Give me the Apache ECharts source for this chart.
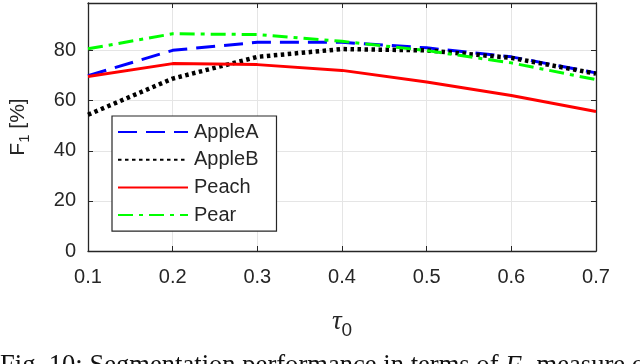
<!DOCTYPE html>
<html>
<head>
<meta charset="utf-8">
<script src="https://cdn.jsdelivr.net/npm/echarts@6/dist/echarts.min.js"></script>
<style>
  html, body { margin: 0; padding: 0; background: #fff; }
  #chart { width: 640px; height: 364px; }
</style>
</head>
<body>
<div id="chart"></div>
<script>
// tau_0 values and F1 scores (%)
const tau = [0.1, 0.2, 0.3, 0.4, 0.5, 0.6, 0.7]
const appleA = [70.0, 80.1, 83.3, 83.3, 81.1, 77.5, 71.1]
const appleB = [54.4, 68.8, 77.5, 80.6, 80.1, 77.1, 70.8]
const peach = [69.7, 74.8, 74.4, 72.1, 67.5, 62.1, 55.7]
const pear = [80.7, 86.7, 86.4, 83.7, 80.0, 75.1, 68.4]

const ink = '#262626'
const sans = 'Liberation Sans, Arial, sans-serif'
const serif = 'Liberation Serif, Times New Roman, serif'

const pairs = vals => tau.map((t, i) => [t, vals[i]])

const chart = echarts.init(document.getElementById('chart'))

const line = (name, vals, color, width, type) => ({
  type: 'line', name, data: pairs(vals),
  symbol: 'none', showSymbol: false,
  lineStyle: { color, width, type, cap: 'butt' },
  itemStyle: { color },
  animation: false
})

chart.setOption({
  animation: false,
  grid: { left: 87, right: 44, top: 3, bottom: 113, show: false },
  xAxis: [{
    type: 'value', min: 0.1, max: 0.7, interval: 0.1,
    name: '{t|τ}{s|0}', nameLocation: 'middle', nameGap: 52,
    nameTextStyle: {
      rich: {
        t: { fontFamily: serif, fontStyle: 'italic', fontSize: 27, color: ink },
        s: { fontFamily: sans, fontSize: 19, color: ink, verticalAlign: 'bottom', padding: [18, 0, 0, 0] }
      }
    },
    axisLine: { lineStyle: { color: ink, width: 1.3 } },
    axisTick: { inside: true, length: 5, lineStyle: { color: ink } },
    axisLabel: { color: ink, fontFamily: sans, fontSize: 20, margin: 16, formatter: v => v.toFixed(1) },
    splitLine: { show: true, lineStyle: { color: '#e5e5e5', width: 1 } }
  }, {
    type: 'value', position: 'top', min: 0.1, max: 0.7, interval: 0.1,
    axisLine: { show: true, onZero: false, lineStyle: { color: ink, width: 1.3 } },
    axisTick: { inside: true, length: 5, lineStyle: { color: ink } },
    axisLabel: { show: false },
    splitLine: { show: false }
  }],
  yAxis: [{
    type: 'value', min: 0, max: 99, interval: 20,
    name: 'F{s|1} [%]', nameLocation: 'middle', nameGap: 56, nameRotate: 90,
    nameTextStyle: {
      fontFamily: sans, fontSize: 21, color: ink,
      rich: { s: { fontFamily: sans, fontSize: 15, color: ink, verticalAlign: 'bottom', padding: [12, 0, 0, 0] } }
    },
    axisLine: { show: true, lineStyle: { color: ink, width: 1.3 } },
    axisTick: { inside: true, length: 5, lineStyle: { color: ink } },
    axisLabel: { color: ink, fontFamily: sans, fontSize: 20, margin: 12, showMaxLabel: false },
    splitLine: { show: true, lineStyle: { color: '#e5e5e5', width: 1 } }
  }, {
    type: 'value', position: 'right', min: 0, max: 99, interval: 20,
    axisLine: { show: true, onZero: false, lineStyle: { color: ink, width: 1.3 } },
    axisTick: { inside: true, length: 5, lineStyle: { color: ink } },
    axisLabel: { show: false },
    splitLine: { show: false }
  }],
  legend: {
    left: 112, top: 116, orient: 'vertical',
    itemWidth: 70, itemHeight: 20, itemGap: 7.7,
    itemStyle: { opacity: 0 },
    padding: [6, 18, 6, 5],
    backgroundColor: '#fff', borderColor: ink, borderWidth: 1.2, borderRadius: 0,
    textStyle: { color: ink, fontFamily: sans, fontSize: 20, padding: [0, 0, 0, 1] },
    data: ['AppleA', 'AppleB', 'Peach', 'Pear']
  },
  series: [
    line('AppleA', appleA, '#0000ff', 3, [19, 9]),
    line('AppleB', appleB, '#000000', 4.5, [3.5, 3.5]),
    line('Peach', peach, '#ff0000', 3, 'solid'),
    line('Pear', pear, '#00ff00', 3, [15, 6, 4, 6])
  ],
  graphic: [{
    type: 'text', left: 0, top: 353,
    style: {
      text: 'Fig. 10: Segmentation performance in terms of {f|F}{s|1} measure o',
      fontFamily: serif, fontSize: 26.6, fill: '#111',
      rich: {
        f: { fontFamily: serif, fontStyle: 'italic', fontSize: 26.6, fill: '#111' },
        s: { fontFamily: serif, fontSize: 17, fill: '#111', verticalAlign: 'bottom' }
      }
    }
  }]
})
</script>
</body>
</html>
